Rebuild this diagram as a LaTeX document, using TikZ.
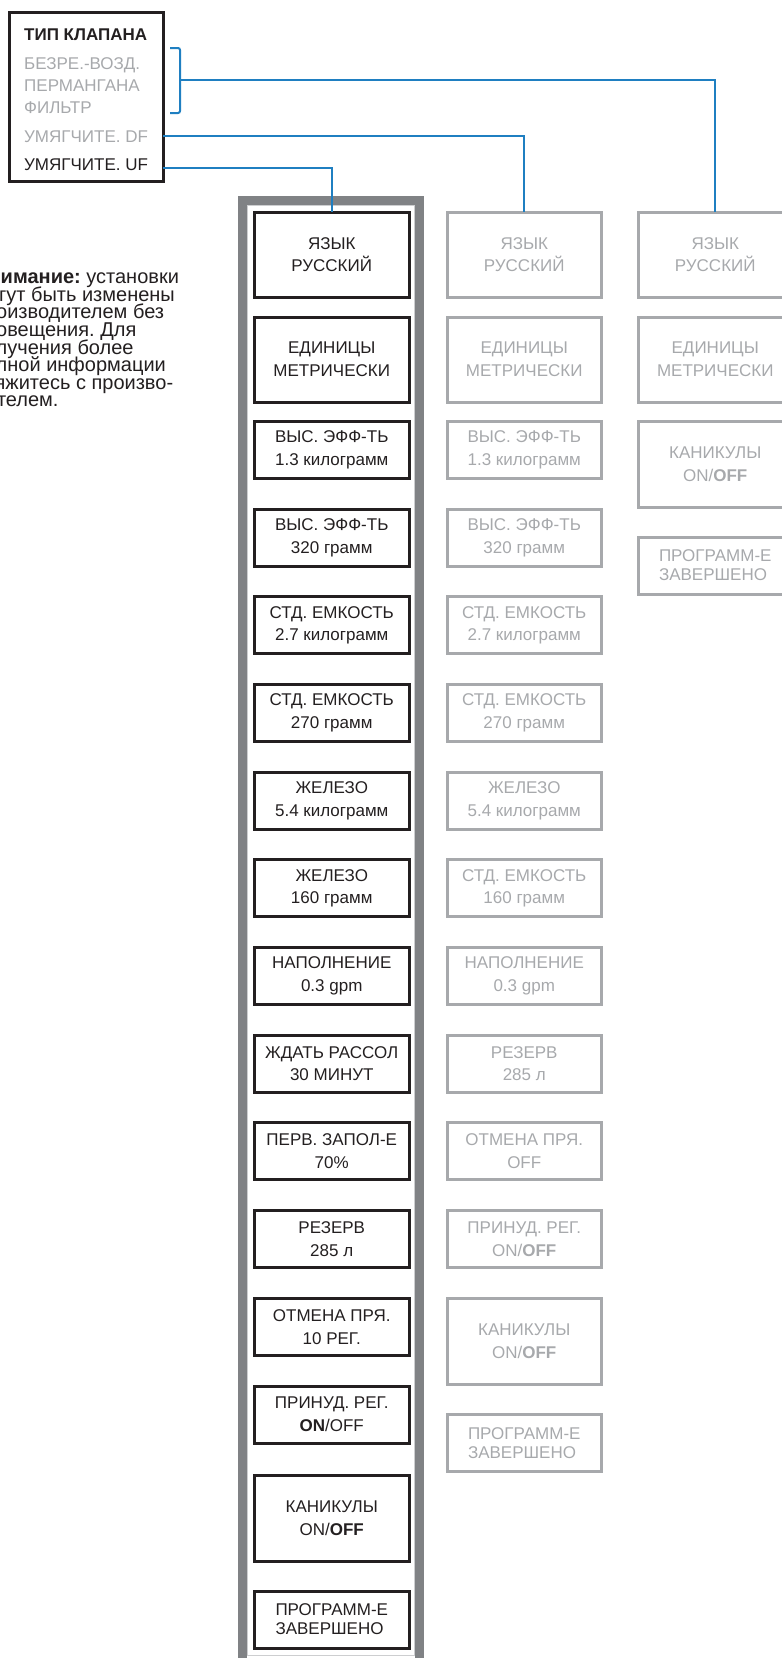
\documentclass[tikz,border=0pt]{standalone}
\usepackage{fontspec}
\setmainfont{Liberation Sans}
\usetikzlibrary{calc}
\frenchspacing
\definecolor{ink}{RGB}{35,31,32}
\definecolor{greyline}{RGB}{167,169,172}
\definecolor{greytxt}{RGB}{167,169,172}
\definecolor{framegrey}{RGB}{128,130,133}
\definecolor{framelight}{RGB}{205,206,208}
\definecolor{linkblue}{RGB}{31,127,193}
\newcommand{\menufont}{\fontsize{17}{22.7}\selectfont}
\newcommand{\lastfont}{\fontsize{17}{19.2}\selectfont}
\newcommand{\notefont}{\fontsize{20}{17.6}\selectfont\lineskiplimit=-20pt\frenchspacing}
\tikzset{
  menubox/.style  = {draw=ink, line width=3pt, minimum width=154.5pt, inner sep=0pt, outer sep=0pt, align=center, text=ink, font=\menufont},
  greybox/.style  = {menubox, draw=greyline, text=greytxt},
  lastbox/.style  = {align=left, font=\lastfont},
  link/.style     = {draw=linkblue, line width=2pt},
  tiptext/.style  = {anchor=base west, inner sep=0pt, font=\menufont}
}

\begin{document}
\begin{tikzpicture}[x=1pt, y=-1pt]
  \useasboundingbox (0,0) rectangle (782,1658);
  \clip (0,0) rectangle (782,1658);
  \node[menubox, minimum width=154pt, minimum height=169.5pt] (tipbox) at (86,96.75) {};
  \node[tiptext, font=\menufont\bfseries, text=ink] (hdr) at (24,40) {ТИП КЛАПАНА};
  \node[tiptext, text=greytxt] (bez) at (24,69) {БЕЗРЕ.-ВОЗД.};
  \node[tiptext, text=greytxt] (perm) at (24,91) {ПЕРМАНГАНА};
  \node[tiptext, text=greytxt] (filt) at (24,113) {ФИЛЬТР};
  \node[tiptext, text=greytxt] (df) at (24,142) {УМЯГЧИТЕ. DF};
  \node[tiptext, text=ink] (uf) at (24,170) {УМЯГЧИТЕ. UF};
  \node[anchor=north west, inner sep=0pt, align=left, font=\notefont, text=ink] (note) at (-26,269.7)
    {\textbf{Внимание:} установки\\могут быть изменены\\производителем без\\оповещения. Для\\получения более\\полной информации\\свяжитесь с произво-\\дителем.};
  \draw[framegrey, line width=9pt] (242.5,200.5) rectangle (419.5,1675);
  \draw[framelight, line width=1pt] (247.5,205.5) rectangle (414.5,1655);
  \foreach \i/\y/\h/\txt in {1/254.5/85/{ЯЗЫК\\РУССКИЙ}, 2/359.5/85/{ЕДИНИЦЫ\\МЕТРИЧЕСКИ},
      3/449.8/57/{ВЫС. ЭФФ-ТЬ\\1.3 килограмм}, 4/537.5/57/{ВЫС. ЭФФ-ТЬ\\320 грамм},
      5/625.2/57/{СТД. ЕМКОСТЬ\\2.7 килограмм}, 6/712.9/57/{СТД. ЕМКОСТЬ\\270 грамм},
      7/800.6/57/{ЖЕЛЕЗО\\5.4 килограмм}, 8/888.3/57/{ЖЕЛЕЗО\\160 грамм},
      9/976/57/{НАПОЛНЕНИЕ\\0.3 gpm}, 10/1063.7/57/{ЖДАТЬ РАССОЛ\\30 МИНУТ},
      11/1151.4/57/{ПЕРВ. ЗАПОЛ-Е\\70\%}, 12/1239.1/57/{РЕЗЕРВ\\285 л},
      13/1326.8/57/{ОТМЕНА ПРЯ.\\10 РЕГ.}, 14/1414.5/57/{ПРИНУД. РЕГ.\\\textbf{ON}/OFF},
      15/1518/86/{КАНИКУЛЫ\\ON/\textbf{OFF}}}
    {\node[menubox, minimum height=\h pt] (uf\i) at (331.75,\y) {\txt};}
  \node[menubox, lastbox, minimum height=57pt] (uf16) at (331.75,1619.5) {ПРОГРАММ-Е\\ЗАВЕРШЕНО};
  \foreach \i/\y/\h/\txt in {1/254.5/85/{ЯЗЫК\\РУССКИЙ}, 2/359.5/85/{ЕДИНИЦЫ\\МЕТРИЧЕСКИ},
      3/449.8/57/{ВЫС. ЭФФ-ТЬ\\1.3 килограмм}, 4/537.5/57/{ВЫС. ЭФФ-ТЬ\\320 грамм},
      5/625.2/57/{СТД. ЕМКОСТЬ\\2.7 килограмм}, 6/712.9/57/{СТД. ЕМКОСТЬ\\270 грамм},
      7/800.6/57/{ЖЕЛЕЗО\\5.4 килограмм}, 8/888.3/57/{СТД. ЕМКОСТЬ\\160 грамм},
      9/976/57/{НАПОЛНЕНИЕ\\0.3 gpm}, 10/1063.7/57/{РЕЗЕРВ\\285 л},
      11/1151.4/57/{ОТМЕНА ПРЯ.\\OFF}, 12/1239.1/57/{ПРИНУД. РЕГ.\\ON/\textbf{OFF}},
      13/1341/86/{КАНИКУЛЫ\\ON/\textbf{OFF}}}
    {\node[greybox, minimum height=\h pt] (df\i) at (524.25,\y) {\txt};}
  \node[greybox, lastbox, minimum height=57pt] (df14) at (524.25,1443) {ПРОГРАММ-Е\\ЗАВЕРШЕНО};
  \foreach \i/\y/\h/\txt in {1/254.5/85/{ЯЗЫК\\РУССКИЙ}, 2/359.5/85/{ЕДИНИЦЫ\\МЕТРИЧЕСКИ},
      3/464/86/{КАНИКУЛЫ\\ON/\textbf{OFF}}}
    {\node[greybox, minimum height=\h pt] (flt\i) at (715.25,\y) {\txt};}
  \node[greybox, lastbox, minimum height=57pt] (flt4) at (715.25,565.5) {ПРОГРАММ-Е\\ЗАВЕРШЕНО};
  \draw[link, rounded corners=2pt] (170,48) -- (180,48) -- (180,113) -- (170,113);
  \coordinate (brk) at (180,80);
  \draw[link] (brk) -| (flt1.north);
  \draw[link] (tipbox.east |- df) -| (df1.north);
  \draw[link] ([yshift=2pt]tipbox.east |- uf.base) -| (uf1.north);
\end{tikzpicture}
\end{document}
